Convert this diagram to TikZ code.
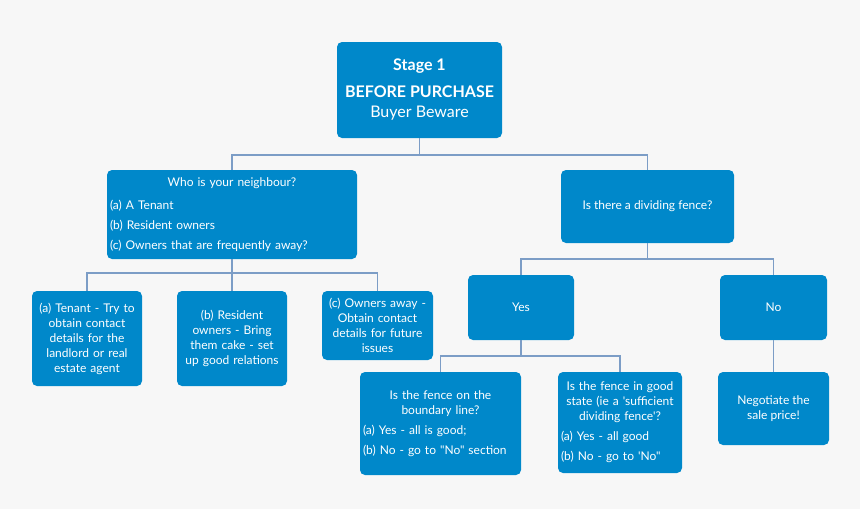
\documentclass[tikz,border=0pt]{standalone}
\usepackage{fontspec}
\setmainfont{Lato}[Ligatures=TeXOff]
\usetikzlibrary{positioning}
\definecolor{boxblue}{HTML}{0088CA}
\definecolor{linkblue}{HTML}{7C9DC6}
\definecolor{pagegrey}{HTML}{F7F7F7}

\begin{document}
\begin{tikzpicture}[
  x=1pt, y=-1pt,
  font=\fontsize{12}{15}\selectfont,
  box/.style={fill=boxblue, text=white, rounded corners=5pt, align=center, inner sep=3pt},
  link/.style={draw=linkblue, line width=1.5pt}
]
\fill[pagegrey] (0,0) rectangle (860,509);
\useasboundingbox (0,0) rectangle (860,509);

% stage header
\node[box, minimum width=165, minimum height=96, font=\fontsize{16}{20}\selectfont] (stage) at (419.5,90)
  {\textbf{Stage 1}\\[7pt]\textbf{BEFORE PURCHASE}\\Buyer Beware};

% second level
\node[box, text width=244pt, align=left, minimum height=89] (nbr) at (232,214.5)
  {\makebox[\linewidth]{Who is your neighbour?}\\[8pt]
   (a) A Tenant\\[5pt]
   (b) Resident owners\\[5pt]
   (c) Owners that are frequently away?};
\node[box, minimum width=173, minimum height=73] (fence) at (647.5,206.5) {Is there a dividing fence?};

% neighbour answers
\node[box, text width=104pt, minimum height=95] (tenant) at (87,338.5)
  {(a) Tenant - Try to\\obtain contact\\details for the\\landlord or real\\estate agent};
\node[box, text width=104pt, minimum height=95] (resident) at (232,338.5)
  {(b) Resident\\owners - Bring\\them cake - set\\up good relations};
\node[box, text width=105pt, minimum height=69] (owners) at (377.5,325.5)
  {(c) Owners away -\\Obtain contact\\details for future\\issues};

% fence answers
\node[box, minimum width=106, minimum height=65] (yes) at (521,307.5) {Yes};
\node[box, minimum width=107, minimum height=65] (no) at (773.5,307.5) {No};

\node[box, text width=155pt, align=left, minimum height=103] (bound) at (440.5,423.5)
  {\makebox[\linewidth]{Is the fence on the}\\
   \makebox[\linewidth]{boundary line?}\\[5pt]
   (a) Yes - all is good;\\[5pt]
   (b) No - go to "No" section};
\node[box, text width=118pt, align=left, minimum height=101] (good) at (620,422.5)
  {\makebox[\linewidth]{Is the fence in good}\\
   \makebox[\linewidth]{state (ie a 'sufficient}\\
   \makebox[\linewidth]{dividing fence'?}\\[5pt]
   (a) Yes - all good\\[5pt]
   (b) No - go to 'No"};
\node[box, minimum width=111, minimum height=73] (nego) at (773.5,408.5) {Negotiate the\\sale price!};

% connectors
\coordinate (j1) at (419.5,155);
\coordinate (j2) at (232,273);
\coordinate (j3) at (647.5,259);
\coordinate (j4) at (521,356);
\draw[link] (stage.south) -- (j1) -| (nbr.north);
\draw[link] (j1) -| (fence.north);
\draw[link] (nbr.south) -- (j2) -| (tenant.north);
\draw[link] (j2) -- (resident.north);
\draw[link] (j2) -| (owners.north);
\draw[link] (fence.south) -- (j3) -| (yes.north);
\draw[link] (j3) -| (no.north);
\draw[link] (yes.south) -- (j4) -| (bound.north);
\draw[link] (j4) -| (good.north);
\draw[link] (no.south) -- (nego.north);
\end{tikzpicture}
\end{document}
